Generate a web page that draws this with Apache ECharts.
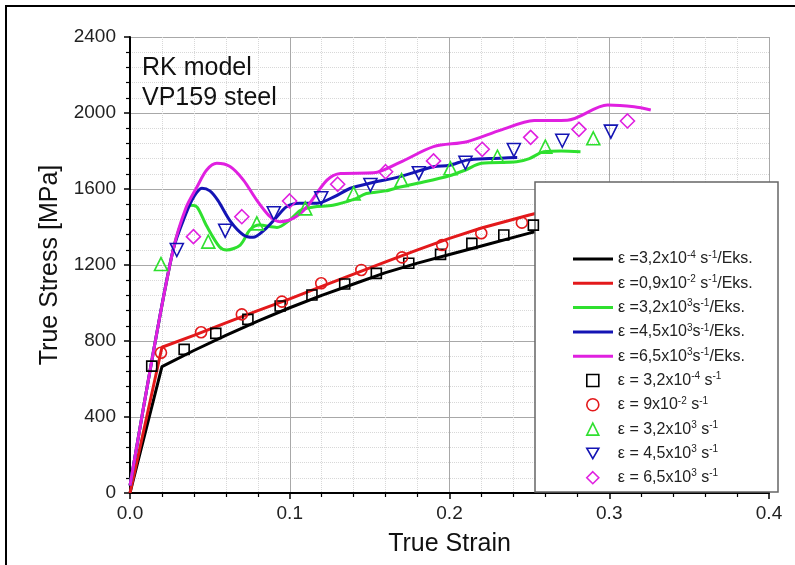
<!DOCTYPE html>
<html>
<head>
<meta charset="utf-8">
<script src="https://cdn.jsdelivr.net/npm/echarts@6/dist/echarts.min.js"></script>
<style>
  html, body { margin: 0; padding: 0; background: #fff; }
  #main { width: 795px; height: 565px; }
</style>
</head>
<body>
<div id="main"></div>
<script>
// model curves (strain, stress)
var modelNames = ['ε =3,2x10⁻⁴ s⁻¹/Eks.', 'ε =0,9x10⁻² s⁻¹/Eks.', 'ε =3,2x10³s⁻¹/Eks.', 'ε =4,5x10³s⁻¹/Eks.', 'ε =6,5x10³s⁻¹/Eks.'];
var expNames = ['ε = 3,2x10⁻⁴ s⁻¹', 'ε = 9x10⁻² s⁻¹', 'ε = 3,2x10³ s⁻¹', 'ε = 4,5x10³ s⁻¹', 'ε = 6,5x10³ s⁻¹'];
var colors = ['#000000', '#e3191b', '#2fe02f', '#1414b4', '#e020e0'];

var model1 = [[0,0],[0.02,665],[0.04,750],[0.06,830],[0.08,905],[0.1,975],[0.12,1040],[0.14,1100],[0.16,1160],[0.18,1210],[0.2,1255],[0.22,1300],[0.25,1368],[0.28,1425]];
var model2 = [[0,0],[0.02,767],[0.04,830],[0.06,895],[0.08,960],[0.1,1022],[0.12,1087],[0.14,1152],[0.16,1216],[0.18,1280],[0.2,1340],[0.22,1395],[0.25,1463],[0.28,1525]];
var model3 = [[0,40],[0.015,760],[0.027,1280],[0.033,1440],[0.038,1515],[0.042,1505],[0.048,1405],[0.056,1296],[0.0605,1279],[0.069,1305],[0.075,1384],[0.081,1410],[0.092,1398],[0.1,1437],[0.107,1489],[0.115,1505],[0.127,1514],[0.14,1545],[0.148,1576],[0.16,1590],[0.169,1610],[0.18,1630],[0.2,1670],[0.21,1700],[0.22,1735],[0.242,1743],[0.25,1760],[0.259,1796],[0.27,1800],[0.282,1796]];
var model4 = [[0,40],[0.015,760],[0.027,1280],[0.035,1470],[0.04,1560],[0.045,1604],[0.05,1590],[0.055,1540],[0.063,1428],[0.071,1358],[0.077,1346],[0.084,1384],[0.092,1454],[0.098,1507],[0.106,1525],[0.117,1525],[0.128,1560],[0.138,1604],[0.15,1630],[0.169,1665],[0.19,1717],[0.2,1725],[0.211,1752],[0.225,1760],[0.2424,1766]];
var model5 = [[0,40],[0.015,760],[0.027,1280],[0.035,1500],[0.042,1612],[0.048,1700],[0.0543,1735],[0.0626,1718],[0.071,1647],[0.0793,1542],[0.0877,1454],[0.094,1428],[0.1023,1446],[0.1108,1507],[0.1233,1647],[0.1317,1682],[0.1526,1685],[0.169,1740],[0.19,1823],[0.211,1849],[0.232,1910],[0.253,1960],[0.2738,1962],[0.2989,2042],[0.3156,2033],[0.326,2016]];

// experimental points
var exp1 = [[0.0136,668],[0.0339,756],[0.0537,840],[0.0738,914],[0.094,984],[0.1139,1042],[0.1344,1100],[0.1542,1156],[0.1745,1209],[0.1944,1256],[0.214,1314],[0.234,1358],[0.2525,1410]];
var exp2 = [[0.0194,738],[0.0445,846],[0.07,940],[0.0951,1007],[0.1197,1104],[0.1448,1174],[0.1703,1240],[0.1954,1305],[0.2199,1367],[0.2453,1423]];
var exp3 = [[0.0194,1205],[0.049,1323],[0.0794,1419],[0.1097,1498],[0.14,1577],[0.17,1647],[0.2006,1709],[0.23,1770],[0.26,1823],[0.29,1867]];
var exp4 = [[0.0293,1279],[0.0596,1380],[0.09,1472],[0.1197,1551],[0.1505,1621],[0.1808,1683],[0.21,1738],[0.2403,1805],[0.2706,1854],[0.301,1902]];
var exp5 = [[0.0397,1349],[0.07,1454],[0.0999,1537],[0.13,1625],[0.16,1691],[0.19,1748],[0.2205,1809],[0.2508,1872],[0.281,1914],[0.3114,1958]];

var models = [model1, model2, model3, model4, model5];
var exps = [exp1, exp2, exp3, exp4, exp5];
var symbols = ['rect', 'circle', 'triangle', 'triangle', 'diamond'];
var symbolSizes = [10, 11, 13, 13, 14];
var symbolRotates = [0, 0, 0, 180, 0];

var FONT = 'Liberation Sans';
var SUP = {'⁻': '-', '¹': '1', '²': '2', '³': '3', '⁴': '4'};
function richName(name) {
    return name.replace(/[⁻¹²³⁴]+/g, function (m) {
        return '{s|' + m.split('').map(function (c) { return SUP[c]; }).join('') + '}';
    });
}

var series = [];
models.forEach(function (d, i) {
    series.push({
        name: modelNames[i],
        type: 'line',
        data: d,
        symbol: 'none',
        smooth: i < 2 ? false : 0.3,
        lineStyle: { width: 3, color: colors[i] },
        itemStyle: { color: colors[i] },
        z: 2
    });
});
exps.forEach(function (d, i) {
    series.push({
        name: expNames[i],
        type: 'scatter',
        data: d,
        symbol: symbols[i],
        symbolSize: symbolSizes[i],
        symbolRotate: symbolRotates[i],
        itemStyle: { color: 'rgba(0,0,0,0)', borderColor: colors[i], borderWidth: 1.6, opacity: 1 },
        z: 5
    });
});

// legend entries for the markers; the inverted triangle needs its own icon
var expLegendData = expNames.map(function (n, i) {
    return symbolRotates[i] ? { name: n, icon: 'path://M0,0L10,0L5,8.66Z' } : n;
});

var legendText = {
    fontFamily: FONT, fontSize: 16, color: '#222', lineHeight: 18,
    rich: { s: { fontFamily: FONT, fontSize: 10, lineHeight: 10, verticalAlign: 'top', color: '#222' } }
};

var myChart = echarts.init(document.getElementById('main'));
var option = {
    animation: false,
    backgroundColor: '#fff',
    grid: { left: 130, right: 26, top: 37, bottom: 72 },
    xAxis: {
        type: 'value', min: 0, max: 0.4, interval: 0.1,
        name: 'True Strain', nameLocation: 'middle', nameGap: 39,
        nameTextStyle: { fontFamily: FONT, fontSize: 25, color: '#111' },
        axisLine: { lineStyle: { color: '#000', width: 2 } },
        axisTick: { length: 6, lineStyle: { color: '#000', width: 1.5 } },
        minorTick: { show: true, splitNumber: 5, length: 4, lineStyle: { color: '#000', width: 1.2 } },
        splitLine: { lineStyle: { color: '#a8a8a8', width: 1 } },
        minorSplitLine: { show: true, lineStyle: { color: '#d8d8d8', type: 'dotted', width: 1 } },
        axisLabel: { fontFamily: FONT, fontSize: 19, color: '#222', margin: 11, formatter: function (v) { return v.toFixed(1); } }
    },
    yAxis: {
        type: 'value', min: 0, max: 2400, interval: 400,
        name: 'True Stress [MPa]', nameLocation: 'middle', nameGap: 62,
        nameTextStyle: { fontFamily: FONT, fontSize: 25, color: '#111' },
        axisLine: { show: true, lineStyle: { color: '#000', width: 2 } },
        axisTick: { show: true, length: 6, lineStyle: { color: '#000', width: 1.5 } },
        minorTick: { show: true, splitNumber: 5, length: 4, lineStyle: { color: '#000', width: 1.2 } },
        splitLine: { lineStyle: { color: '#a8a8a8', width: 1 } },
        minorSplitLine: { show: true, lineStyle: { color: '#d8d8d8', type: 'dotted', width: 1 } },
        axisLabel: { fontFamily: FONT, fontSize: 19, color: '#222', margin: 14, formatter: function (v) { return String(v); } }
    },
    legend: [{
        data: modelNames,
        orient: 'vertical', left: 568, top: 245,
        icon: 'rect', itemWidth: 40, itemHeight: 3, itemGap: 6.3,
        selectedMode: false,
        textStyle: legendText,
        formatter: richName,
        z: 6
    }, {
        data: expLegendData,
        orient: 'vertical', left: 581, top: 366.5,
        itemWidth: 12, itemHeight: 12, itemGap: 6.3,
        selectedMode: false,
        itemStyle: { borderWidth: 1.6 },
        textStyle: Object.assign({}, legendText, { padding: [0, 0, 0, 14] }),
        formatter: richName,
        z: 6
    }],
    graphic: [{
        type: 'rect', z: 0,
        shape: { x: 6, y: 6, width: 900, height: 700 },
        style: { fill: 'none', stroke: '#000', lineWidth: 2 }
    }, {
        type: 'rect', z: 4,
        shape: { x: 535, y: 182, width: 243, height: 310 },
        style: { fill: '#fff', stroke: '#666', lineWidth: 1.5 }
    }, {
        type: 'text', z: 4, left: 142, top: 53,
        style: { text: 'RK model\nVP159 steel', font: '25px "Liberation Sans"', fill: '#111', lineHeight: 30 }
    }],
    series: series
};
myChart.setOption(option);
</script>
</body>
</html>
